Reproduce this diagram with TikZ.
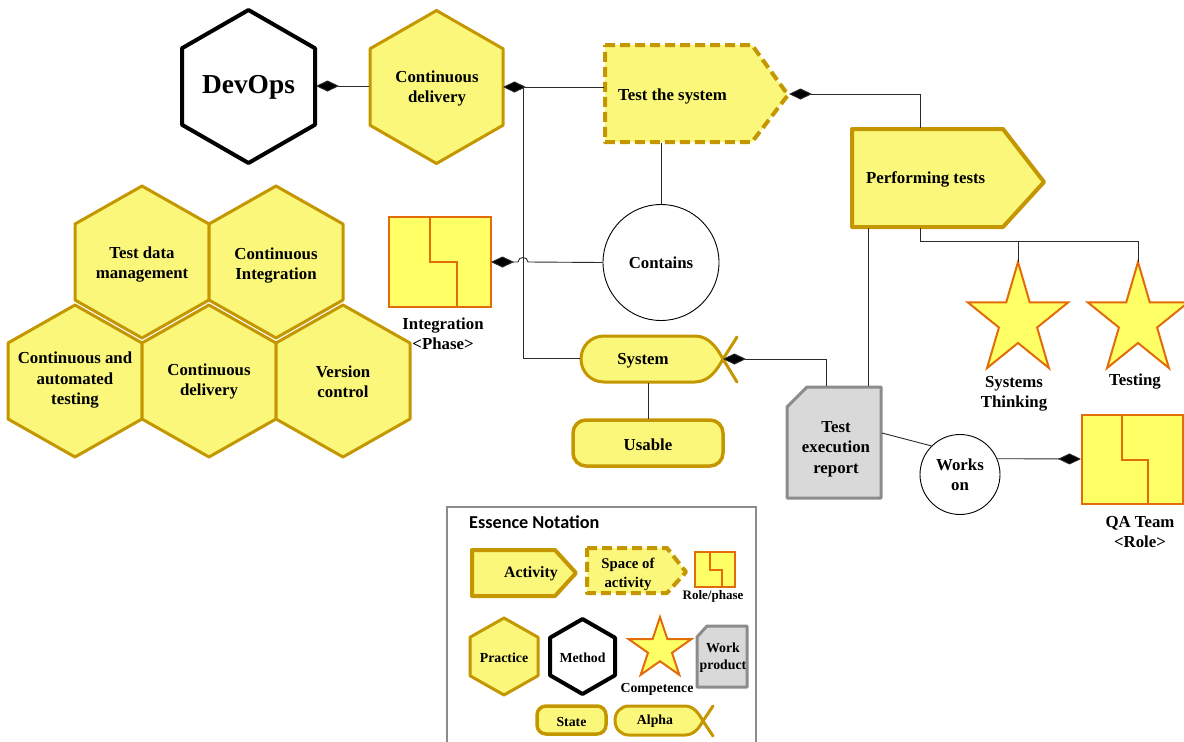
\documentclass[tikz,border=0pt]{standalone}
\usepackage{fontspec}
\setmainfont{Liberation Serif}
\newfontfamily\notefont{Carlito}
\usetikzlibrary{arrows.meta}

\definecolor{gold}{HTML}{C49600}
\definecolor{hexfill}{HTML}{FAF77A}
\definecolor{rolefill}{HTML}{FFFF66}
\definecolor{roleedge}{HTML}{E26B0A}
\definecolor{wpfill}{HTML}{D9D9D9}
\definecolor{wpedge}{HTML}{8C8C8C}
\definecolor{linkgray}{HTML}{2A2A2A}

\tikzset{
  practice/.style={draw=gold, fill=hexfill, line width=3pt, line join=round},
  method/.style={draw=black, fill=white, line width=4pt, line join=round},
  activity/.style={draw=gold, fill=hexfill, line width=4pt, line join=round},
  spaceact/.style={activity, dash pattern=on 10pt off 5pt},
  rolebox/.style={draw=roleedge, fill=rolefill, line width=2.5pt},
  roleinner/.style={draw=roleedge, line width=2.5pt},
  competence/.style={draw=roleedge, fill=rolefill, line width=2pt, line join=miter},
  workprod/.style={draw=wpedge, fill=wpfill, line width=3pt, line join=round},
  alphabody/.style={draw=gold, fill=hexfill, line width=3pt},
  alphatail/.style={draw=gold, line width=3pt, line cap=round},
  statebox/.style={draw=gold, fill=hexfill, line width=3.5pt},
  link/.style={draw=linkgray, line width=0.9pt},
  part/.style={link, -{Diamond[length=23pt,width=11pt,fill=black]}},
  assoc/.style={draw=black, fill=white, line width=0.9pt, circle, inner sep=0pt},
  lbl/.style={inner sep=0pt, align=center, yshift=-1.5pt, font=\fontsize{16.8}{20.5}\selectfont\bfseries},
  small/.style={inner sep=0pt, align=center, yshift=-1pt, font=\fontsize{13.8}{17}\selectfont\bfseries},
}

% pointy-top hexagon: style, centre x, centre y, half width, half height
\newcommand\hexagonat[5]{%
  \path[#1,shift={(#2,#3)}] (0,{-#5}) -- ({#4},{-0.5*#5}) -- ({#4},{0.5*#5})
    -- (0,{#5}) -- ({-#4},{0.5*#5}) -- ({-#4},{-0.5*#5}) -- cycle;}

% five-pointed star: style, centre x, centre y, radius x, radius y
\newcommand\starat[5]{%
  \path[#1] ({#2},{#3-#5})
    \foreach \k in {1,...,9}{
      -- ({#2+#4*(1-0.618*mod(\k,2))*cos(90+36*\k)},{#3-#5*(1-0.618*mod(\k,2))*sin(90+36*\k)})
    } -- cycle;}

% role / phase icon: left, top, right, bottom, step x1, step y, step x2
\newcommand\roleat[7]{%
  \path[rolebox] (#1,#2) rectangle (#3,#4);
  \path[roleinner] (#5,#2) -- (#5,#6) -- (#7,#6) -- (#7,#4);}

\begin{document}
\begin{tikzpicture}[x=1pt,y=-1pt]
\useasboundingbox (0,0) rectangle (1184,742);

% ---------- practices and method ----------
\hexagonat{method}{248.5}{86.5}{66.5}{76.5}
\node[lbl, font=\fontsize{27.4}{30}\selectfont\bfseries] (devops) at (248.5,86) {DevOps};

\hexagonat{practice}{436.5}{87}{66.5}{76.5}
\node[lbl] (cd) at (437,87) {Continuous\\delivery};

% honeycomb of practices
\hexagonat{practice}{142}{262}{67}{76}
\hexagonat{practice}{276}{262}{67}{76}
\hexagonat{practice}{75}{381}{67}{76}
\hexagonat{practice}{209}{381}{67}{76}
\hexagonat{practice}{343}{381}{67}{76}
\node[lbl] (tdm) at (142,263) {Test data\\management};
\node[lbl] (ci) at (276,264) {Continuous\\Integration};
\node[lbl] (cat) at (75,379) {Continuous and\\automated\\testing};
\node[lbl] (cd2) at (209,380) {Continuous\\delivery};
\node[lbl] (vc) at (343,380) {Version\\control};

% ---------- activities ----------
\path[spaceact] (605,45) -- (752,45) -- (788,95) -- (752,142) -- (605,142) -- cycle;
\node[lbl, anchor=west] (ts) at (618,95) {Test the system};

\path[activity] (852,129) -- (1003,129) -- (1044,182) -- (1003,227) -- (852,227) -- cycle;
\node[lbl, anchor=west] (pt) at (866,178) {Performing tests};

% ---------- phase and role ----------
\roleat{389}{217}{491}{307}{430}{262}{457}
\node[lbl] (integ) at (443,332) {Integration\\<Phase>};

\roleat{1082}{415}{1183}{504}{1122}{460}{1148}
\node[lbl] (qa) at (1140,530.5) {QA Team\\<Role>};

% ---------- competencies ----------
\starat{competence}{1018}{320.6}{52.6}{58.6}
\starat{competence}{1138}{320.6}{52.6}{58.6}
\node[lbl] (systhink) at (1014,392.5) {Systems\\Thinking};
\node[lbl] (testing) at (1135,380) {Testing};

% ---------- alpha and state ----------
\path[alphabody] (604,336) -- (695,336) .. controls (710,336) and (718,350) .. (723,359)
  .. controls (718,368) and (710,382) .. (695,382) -- (604,382)
  .. controls (591,382) and (581,372) .. (581,359)
  .. controls (581,346) and (591,336) .. (604,336) -- cycle;
\path[alphatail] (737,337) -- (723,359) -- (737,382);
\node[lbl] (system) at (643,359) {System};

\path[statebox, rounded corners=13pt] (573,420) rectangle (723,466);
\node[lbl] (usable) at (648,443) {Usable};

% ---------- work product ----------
\path[workprod] (787,407) -- (807,387) -- (881,387) -- (881,498) -- (787,498) -- cycle;
\node[lbl] (report) at (836,447.5) {Test\\execution\\report};

% ---------- associations ----------
\node[assoc, minimum size=116pt, lbl, draw=black] (contains) at (661,261) {Contains};
\node[assoc, minimum size=80pt, lbl, draw=black] (works) at (960,473) {Works\\on};

% ---------- connectors ----------
\coordinate (devE) at (316,86);
\coordinate (cdW) at (369,86);
\coordinate (cdE) at (503,87);
\coordinate (tsW) at (604,87);
\coordinate (split) at (523,87);
\coordinate (sysW) at (580,358);
\coordinate (tsE) at (789,94);
\coordinate (ptN) at (920,128);
\coordinate (tsS) at (661,143);
\coordinate (intE) at (491,262);
\coordinate (hopR) at (528,262);
\coordinate (hopL) at (518,262);
\coordinate (ptS) at (920,228);
\coordinate (fork) at (920,241);
\coordinate (st1N) at (1018,262);
\coordinate (st2N) at (1138,262);
\coordinate (ptSW) at (868,228);
\coordinate (rptN) at (868,386);
\coordinate (rptN2) at (826,386);
\coordinate (sysE) at (723,359);
\coordinate (sysS) at (648,383);
\coordinate (useN) at (648,419);
\coordinate (rptE) at (882,433);
\coordinate (qaW) at (1081,459);

\draw[part] (cdW) -- (devE);
\draw[part] (tsW) -- (cdE);
\draw[link] (split) |- (sysW);
\draw[part] (ptN) |- (tsE);
\draw[link] (tsS) -- (contains.north);
\draw[part] (contains.west) -- (hopR) .. controls (528,256) and (518,256) .. (hopL) -- (intE);
\draw[link] (ptS) -- (fork) -| (st1N);
\draw[link] (fork) -| (st2N);
\draw[link] (ptSW) -- (rptN);
\draw[part] (rptN2) |- (sysE);
\draw[link] (sysS) -- (useN);
\draw[link] (rptE) -- (works.135);
\draw[part] (works.23) -- (qaW);

% ---------- legend ----------
\draw[draw=wpedge, line width=1.2pt] (447,742) -- (447,507) -- (756,507) -- (756,742);
\node[anchor=west, inner sep=0pt, font=\notefont\fontsize{18.2}{20}\selectfont\bfseries] (legtitle) at (469,522) {Essence Notation};

\path[activity] (472,550) -- (555,550) -- (576,573) -- (555,596) -- (472,596) -- cycle;
\node[small, font=\fontsize{15.8}{18}\selectfont\bfseries] (legact) at (531,573) {Activity};

\path[spaceact] (587,548) -- (667,548) -- (686,572) -- (667,593) -- (587,593) -- cycle;
\node[small, font=\fontsize{14.8}{19}\selectfont\bfseries] (legspace) at (628,573.5) {Space of\\activity};

\roleat{695}{552}{735}{587}{710}{570}{722}
\node[small, font=\fontsize{13}{15}\selectfont\bfseries] (legrole) at (713,595) {Role/phase};

\hexagonat{practice}{504}{656.5}{34}{38.5}
\node[small] (legprac) at (504,657) {Practice};
\hexagonat{method}{582.5}{656.5}{32.5}{37.5}
\node[small] (legmeth) at (582.5,657) {Method};

\starat{competence}{660}{649}{33}{32}
\node[small] (legcomp) at (657,688) {Competence};

\path[workprod] (697,637) -- (707,626) -- (747,626) -- (747,687) -- (697,687) -- cycle;
\node[small] (legwp) at (723,656.5) {Work\\product};

\path[statebox, rounded corners=9pt] (537,706) rectangle (606,734);
\node[small] (legstate) at (571.5,720.5) {State};

\path[alphabody] (629,706) -- (685,706) .. controls (694,706) and (699,714) .. (703,721)
  .. controls (699,728) and (694,735) .. (685,735) -- (629,735)
  .. controls (621,735) and (615,729) .. (615,720.5)
  .. controls (615,712) and (621,706) .. (629,706) -- cycle;
\path[alphatail] (713,706) -- (703,721) -- (713,736);
\node[small] (legalpha) at (655,720.5) {Alpha};

\end{tikzpicture}
\end{document}
